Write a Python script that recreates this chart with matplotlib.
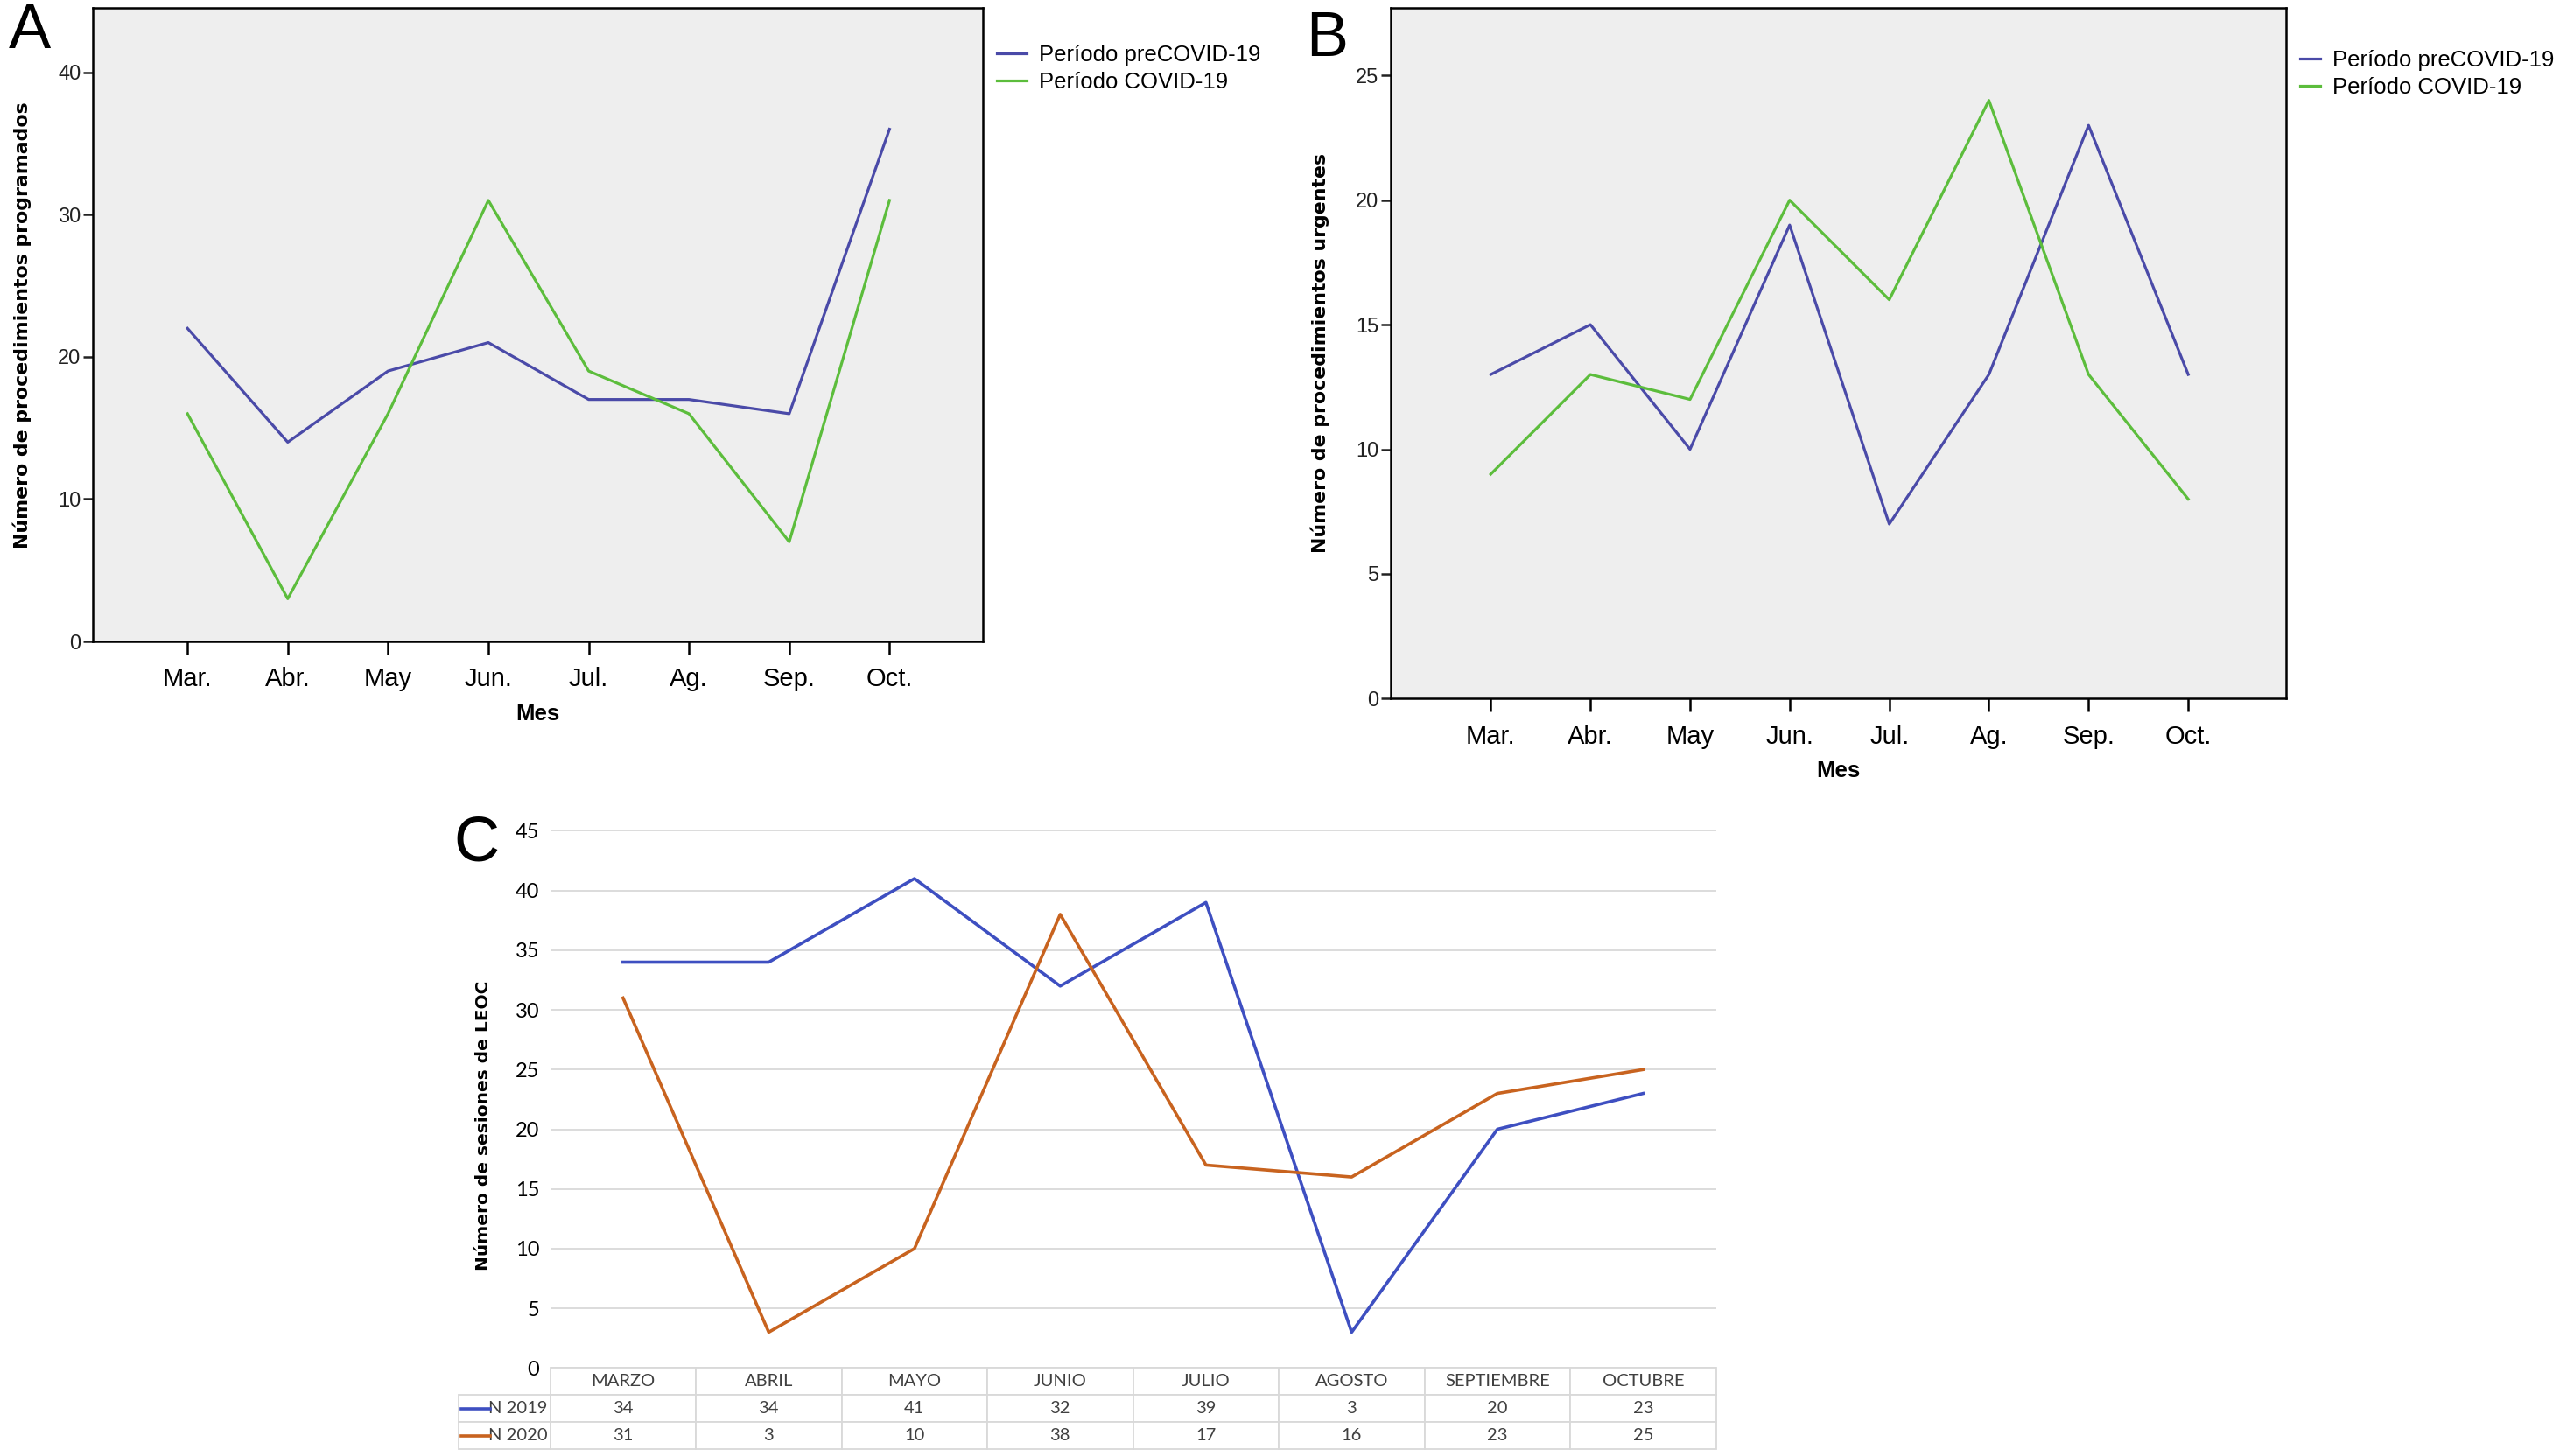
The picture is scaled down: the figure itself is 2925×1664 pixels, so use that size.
import matplotlib
matplotlib.use('Agg')
import matplotlib.pyplot as plt
from matplotlib.lines import Line2D

plt.rcParams['font.family'] = ['Liberation Sans', 'DejaVu Sans']

# Datos de los paneles A y B
meses_ab = ['Mar.', 'Abr.', 'May', 'Jun.', 'Jul.', 'Ag.', 'Sep.', 'Oct.']
prog_pre = [22, 14, 19, 21, 17, 17, 16, 36]
prog_covid = [16, 3, 16, 31, 19, 16, 7, 31]
urg_pre = [13, 15, 10, 19, 7, 13, 23, 13]
urg_covid = [9, 13, 12, 20, 16, 24, 13, 8]
leyenda_ab = ['Período preCOVID-19', 'Período COVID-19']

# Datos del panel C
meses_c = ['MARZO', 'ABRIL', 'MAYO', 'JUNIO', 'JULIO', 'AGOSTO', 'SEPTIEMBRE', 'OCTUBRE']
leoc_2019 = [34, 34, 41, 32, 39, 3, 20, 23]
leoc_2020 = [31, 3, 10, 38, 17, 16, 23, 25]
series_c = ['N 2019', 'N 2020']

AZUL = '#4a4aa8'
VERDE = '#5cbd3c'
AZUL_C = '#3e4fc1'
NARANJA_C = '#c8631f'

fig = plt.figure(figsize=(29.25, 16.64), dpi=100)


def panel_spss(rect, pre, covid, ylabel, ymax, yticks, xlim, leg_pos, handlelen):
    ax = fig.add_axes(rect)
    ax.set_facecolor('#eeeeee')
    x = range(len(meses_ab))
    ax.plot(x, pre, color=AZUL, lw=2.3, label=leyenda_ab[0])
    ax.plot(x, covid, color=VERDE, lw=2.3, label=leyenda_ab[1])
    ax.set_xlim(*xlim)
    ax.set_ylim(0, ymax)
    ax.set_yticks(yticks)
    ax.set_xticks(list(x))
    ax.set_xticklabels(meses_ab, fontsize=21)
    ax.tick_params(axis='y', labelsize=17, length=8, width=1.8, pad=2, colors='#222222')
    ax.tick_params(axis='x', length=11, width=1.8, pad=10)
    for s in ax.spines.values():
        s.set_linewidth(1.8)
    ax.set_xlabel('Mes', fontsize=18.5, fontweight='bold', labelpad=10)
    ax.set_ylabel(ylabel, fontsize=15.8, fontweight='bold', family='DejaVu Sans', labelpad=22)
    fig.legend(handles=ax.get_lines(), loc='upper left', bbox_to_anchor=leg_pos,
               frameon=False, fontsize=18.5, handlelength=handlelen, handletextpad=0.55,
               labelspacing=0.28, borderpad=0, borderaxespad=0)
    return ax


axA = panel_spss([0.0364, 0.5594, 0.3475, 0.4350], prog_pre, prog_covid,
                 'Número de procedimientos programados', 44.5, [0, 10, 20, 30, 40],
                 (-0.94, 7.93), (0.3895, 0.9695), 1.3)
axB = panel_spss([0.5434, 0.5202, 0.3495, 0.4742], urg_pre, urg_covid,
                 'Número de procedimientos urgentes', 27.7, [0, 5, 10, 15, 20, 25],
                 (-1.0, 7.98), (0.8985, 0.966), 0.9)

# Panel C
axC = fig.add_axes([0.2149, 0.0605, 0.4554, 0.3689])
xc = range(len(meses_c))
axC.plot(xc, leoc_2019, color=AZUL_C, lw=2.6)
axC.plot(xc, leoc_2020, color=NARANJA_C, lw=2.6)
axC.set_xlim(-0.5, len(meses_c) - 0.5)
axC.set_ylim(0, 45)
axC.set_yticks(range(0, 50, 5))
axC.yaxis.grid(True, color='#d9d9d9', lw=1.3)
axC.set_axisbelow(True)
axC.set_xticks([])
for s in axC.spines.values():
    s.set_visible(False)
axC.tick_params(axis='y', length=0, pad=9, labelsize=17)
for t in axC.get_yticklabels():
    t.set_family('Lato')
axC.set_ylabel('Número de sesiones de LEOC', fontsize=14.5, fontweight='bold', family='DejaVu Sans')
axC.yaxis.set_label_coords(-0.05, 0.452)

tbl_h = 0.1515
row_w = 105 / 1332
col_w = 1 / len(meses_c)
tabla = axC.table(cellText=[leoc_2019, leoc_2020], colLabels=meses_c,
                  colWidths=[col_w] * len(meses_c), cellLoc='center',
                  bbox=[0, -tbl_h, 1, tbl_h])
alto = tabla[1, 0].get_height()
for i, nombre in enumerate(series_c):
    tabla.add_cell(i + 1, -1, width=row_w, height=alto, text=nombre, loc='right')
tabla.auto_set_font_size(False)
tabla.set_fontsize(14.5)
for (r, c), cell in tabla.get_celld().items():
    cell.set_edgecolor('#d9d9d9')
    cell.set_linewidth(1.3)
    cell.get_text().set_color('#404040')
    cell.get_text().set_family('Lato')
    if c == -1:
        cell.PAD = 0.03

for i, col in enumerate([AZUL_C, NARANJA_C]):
    yk = -tbl_h * (3 + 2 * i) / 6
    axC.add_line(Line2D([-0.0766, -0.0518], [yk, yk], transform=axC.transAxes,
                        color=col, lw=2.6, clip_on=False))

# Letras de los paneles
fig.text(0.0117, 0.998, 'A', fontsize=52, ha='center', va='top')
fig.text(0.5185, 0.9928, 'B', fontsize=52, ha='center', va='top')
fig.text(0.186, 0.440, 'C', fontsize=52, ha='center', va='top')

fig.savefig('out.png', dpi=100)
